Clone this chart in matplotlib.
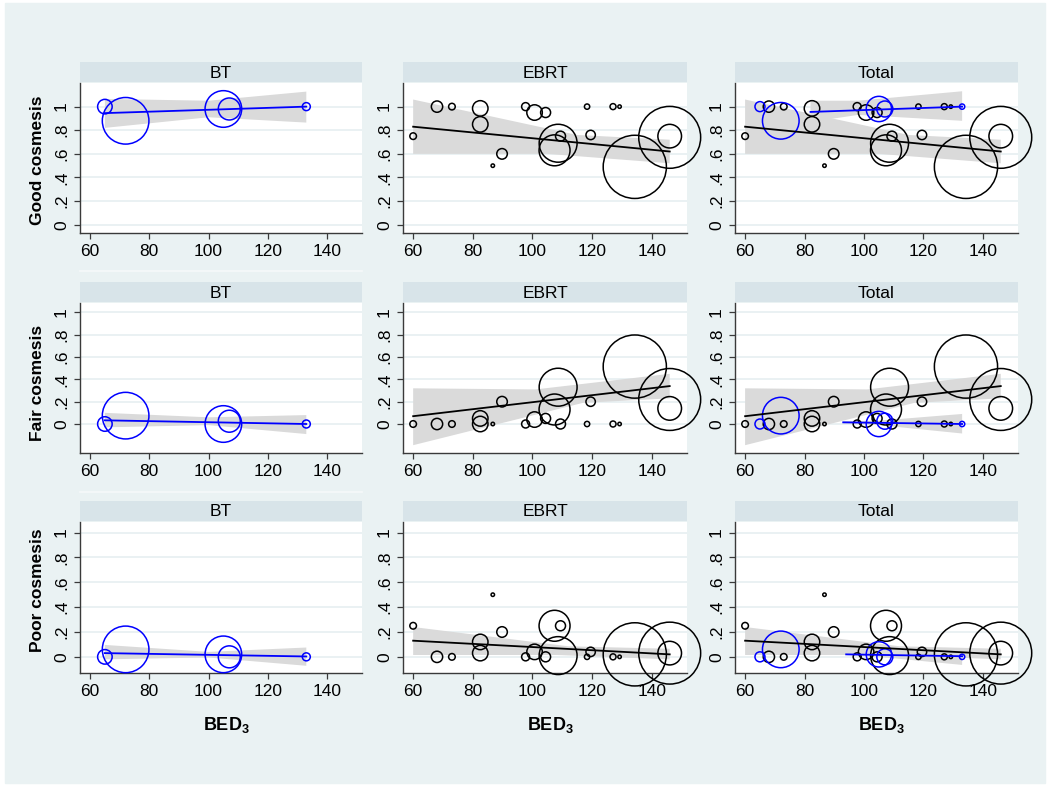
import matplotlib
matplotlib.use('Agg')
import matplotlib.pyplot as plt
from matplotlib.patches import Rectangle

plt.rcParams['font.family'] = ['Liberation Sans', 'DejaVu Sans']
plt.rcParams['mathtext.fontset'] = 'custom'
plt.rcParams['mathtext.rm'] = 'Liberation Sans'
plt.rcParams['mathtext.bf'] = 'Liberation Sans:bold'

# EBRT studies: BED3, weight (bubble area), proportion good / fair / poor
ebrt_bed = [60, 68, 73, 82.5, 82.5, 86.7, 89.8, 97.7, 100.7, 104.4,
            108.6, 107.4, 109.4, 118.3, 119.5, 127, 129.2, 134.3, 146, 146]
ebrt_wt = [11, 32, 11, 60, 60, 3, 28, 16, 60, 25,
           360, 240, 25, 7, 22, 9, 3, 1000, 960, 140]
ebrt_good = [0.75, 1.0, 1.0, 0.985, 0.85, 0.5, 0.6, 1.0, 0.95, 0.95,
             0.69, 0.63, 0.75, 1.0, 0.76, 1.0, 1.0, 0.49, 0.74, 0.75]
ebrt_fair = [0.0, 0.0, 0.0, 0.0, 0.05, 0.0, 0.2, 0.0, 0.04, 0.05,
             0.33, 0.13, 0.0, 0.0, 0.2, 0.0, 0.0, 0.515, 0.22, 0.14]
ebrt_poor = [0.25, 0.0, 0.0, 0.03, 0.12, 0.5, 0.2, 0.0, 0.04, 0.0,
             0.01, 0.25, 0.25, 0.0, 0.04, 0.0, 0.0, 0.02, 0.03, 0.03]

# BT studies
bt_bed = [65, 72, 105, 107, 133]
bt_wt = [53, 544, 336, 121, 16]
bt_wt_total = [25, 336, 160, 64, 7]
bt_good = [1.0, 0.88, 0.98, 0.98, 1.0]
bt_fair = [0.0, 0.075, 0.0, 0.025, 0.0]
bt_poor = [0.0, 0.06, 0.02, 0.0, 0.0]

# fitted lines and confidence bands (good, fair, poor)
ebrt_line_x = [60, 146]
ebrt_line = [[0.83, 0.62], [0.07, 0.34], [0.13, 0.02]]
ebrt_up_x = [[60, 115, 146], [60, 101, 146], [60, 112, 146]]
ebrt_up = [[1.06, 0.76, 0.72], [0.32, 0.31, 0.45], [0.24, 0.085, 0.065]]
ebrt_lo_x = [[60, 105, 146], [60, 117, 146], [60, 108, 146]]
ebrt_lo = [[0.60, 0.60, 0.52], [-0.19, 0.19, 0.23], [0.015, 0.015, -0.02]]

bt_line_x = [65, 133]
bt_line = [[0.945, 1.0], [0.033, 0.0], [0.03, 0.003]]
bt_band_x = [65, 100, 133]
bt_up = [[1.065, 1.05, 1.127], [0.10, 0.06, 0.08], [0.096, 0.04, 0.075]]
bt_lo = [[0.82, 0.91, 0.865], [-0.03, -0.01, -0.09], [-0.02, -0.005, -0.072]]

tot_line_x = [[82, 133], [93, 133], [94, 133]]
tot_line = [[0.955, 1.0], [0.015, 0.0], [0.02, 0.005]]
tot_band_x = [[82, 98, 133], [93, 105, 133], [94, 105, 133]]
tot_up = [[1.05, 1.05, 1.13], [0.025, 0.03, 0.09], [0.025, 0.035, 0.05]]
tot_lo = [[0.87, 0.93, 0.88], [0.005, -0.01, -0.085], [0.015, 0.0, -0.065]]

outcomes = ['Good cosmesis', 'Fair cosmesis', 'Poor cosmesis']
panels = ['BT', 'EBRT', 'Total']
yticks = [0, 0.2, 0.4, 0.6, 0.8, 1]
ytick_labels = ['0', '.2', '.4', '.6', '.8', '1']
xticks = [60, 80, 100, 120, 140]
ylims = [(-0.07, 1.2), (-0.26, 1.085), (-0.13, 1.085)]

BG = '#eaf2f3'
STRIP = '#d8e4e9'
BAND = '#dadada'
GRID = '#e6eff1'
AXC = '#3a3a3a'

W, H = 1050, 791
fig = plt.figure(figsize=(W / 100, H / 100), dpi=100, facecolor='white')
fig.patches.append(Rectangle((5 / W, 1 - 783 / H), 1040 / W, 780 / H,
                             transform=fig.transFigure, color=BG, zorder=-10))

cols_x = [(80, 362), (403, 687), (735, 1018)]
rows_y = [(83, 233), (303, 453), (522, 673)]
label_y = [160, 383, 590]


def band(ax, ux, uy, lx, ly):
    ax.fill(list(ux) + list(lx)[::-1], list(uy) + list(ly)[::-1],
            color=BAND, lw=0, zorder=1)


def bubbles(ax, x, y, w, color):
    ax.scatter(x, y, s=[2.07 * v for v in w], facecolors='none',
               edgecolors=color, linewidths=1.1, zorder=3, clip_on=False)


for r in range(3):
    y0, y1 = rows_y[r]
    ev = [ebrt_good, ebrt_fair, ebrt_poor][r]
    bv = [bt_good, bt_fair, bt_poor][r]
    for c in range(3):
        x0, x1 = cols_x[c]
        ax = fig.add_axes([x0 / W, 1 - y1 / H, (x1 - x0) / W, (y1 - y0) / H])
        ax.set_facecolor('white')
        sax = fig.add_axes([x0 / W, 1 - (y0 - 1) / H, (x1 - x0) / W, 20 / H])
        sax.set_facecolor(STRIP)
        sax.set_xticks([])
        sax.set_yticks([])
        for s in sax.spines.values():
            s.set_visible(False)
        sax.text(0.5, 0.45, panels[c], ha='center', va='center', fontsize=12.5)

        if c in (1, 2):
            band(ax, ebrt_up_x[r], ebrt_up[r], ebrt_lo_x[r], ebrt_lo[r])
        if c == 0:
            band(ax, bt_band_x, bt_up[r], bt_band_x, bt_lo[r])
        if c == 2:
            band(ax, tot_band_x[r], tot_up[r], tot_band_x[r], tot_lo[r])

        if c in (1, 2):
            bubbles(ax, ebrt_bed, ev, ebrt_wt, 'black')
            ax.plot(ebrt_line_x, ebrt_line[r], color='black', lw=1.3, zorder=4)
        if c == 0:
            bubbles(ax, bt_bed, bv, bt_wt, '#0000ff')
            ax.plot(bt_line_x, bt_line[r], color='#0000ff', lw=1.3, zorder=4)
        if c == 2:
            bubbles(ax, bt_bed, bv, bt_wt_total, '#0000ff')
            ax.plot(tot_line_x[r], tot_line[r], color='#0000ff', lw=1.3, zorder=4)

        ax.set_xlim(56.6, 151.8)
        ax.set_ylim(*ylims[r])
        ax.set_xticks(xticks)
        ax.set_yticks(yticks)
        ax.set_yticklabels(ytick_labels)
        ax.grid(axis='y', color=GRID, lw=1.2)
        ax.set_axisbelow(True)
        for side in ('top', 'right'):
            ax.spines[side].set_visible(False)
        for side in ('left', 'bottom'):
            ax.spines[side].set_color(AXC)
            ax.spines[side].set_linewidth(1.0)
        ax.tick_params(direction='out', length=4, width=0.9, color=AXC,
                       labelsize=12.5, pad=4)
        ax.tick_params(axis='y', labelrotation=90)
        for t in ax.get_yticklabels():
            t.set_va('center')

        if r == 2:
            fig.text(((x0 + x1) / 2 + 5) / W, 1 - 725 / H, r'BED$_\mathbf{3}$',
                     ha='center', va='center', fontsize=13, fontweight='bold')

    fig.text(37 / W, 1 - label_y[r] / H, outcomes[r], rotation=90,
             ha='center', va='center', fontsize=12.5, fontweight='bold')

# faint separators between the first-column subgraphs
for yy in (271, 492):
    fig.add_artist(plt.Line2D([80 / W, 362 / W], [1 - yy / H, 1 - yy / H],
                              color='#f6f9fa', lw=1.2))

fig.savefig('out.png', dpi=100, facecolor='white')
